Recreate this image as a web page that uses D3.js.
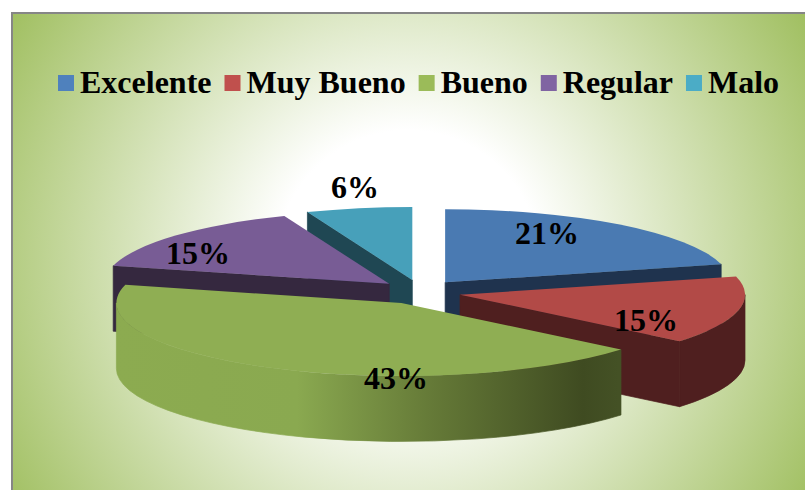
<!DOCTYPE html>
<html>
<head>
<meta charset="utf-8">
<script src="https://cdn.jsdelivr.net/npm/d3@7"></script>
<style>
  body { margin: 0; background: #fff; }
  svg { display: block; }
  text { font-family: "Liberation Serif", serif; font-weight: bold; fill: #000; }
</style>
</head>
<body>
<svg width="805" height="490"></svg>
<script>
var categories = ["Excelente", "Muy Bueno", "Bueno", "Regular", "Malo"];
var values = [21, 15, 43, 15, 6];
var labels = ["21%", "15%", "43%", "15%", "6%"];
var legendColors = ["#4f81bd", "#c0504d", "#9bbb59", "#8064a2", "#4bacc6"];
var topColors = ["#4a7ab2", "#b24a47", "#8fae53", "#785c95", "#47a0ba"];
var wallColors = ["#1f334e", "#4f1f1f", "url(#greenWall)", "#35283f", "#1f4753"];

var svg = d3.select("svg"),
    width = +svg.attr("width"),
    height = +svg.attr("height");

var cx = 420, cy = 292, rx = 285, ry = 73, depth = 65.5;
var explodeX = 41, explodeY = 12.3;

var defs = svg.append("defs");

var bg = defs.append("radialGradient")
    .attr("id", "bg")
    .attr("gradientUnits", "userSpaceOnUse")
    .attr("cx", 408).attr("cy", 262).attr("r", 470);
bg.append("stop").attr("offset", 0.28).attr("stop-color", "#ffffff");
bg.append("stop").attr("offset", 1).attr("stop-color", "#a0bf60");

var greenWall = defs.append("linearGradient")
    .attr("id", "greenWall")
    .attr("gradientUnits", "userSpaceOnUse")
    .attr("x1", 116).attr("x2", 618).attr("y1", 0).attr("y2", 0);
greenWall.append("stop").attr("offset", 0).attr("stop-color", "#8cab50");
greenWall.append("stop").attr("offset", 0.36).attr("stop-color", "#8aa950");
greenWall.append("stop").attr("offset", 0.62).attr("stop-color", "#667b38");
greenWall.append("stop").attr("offset", 0.93).attr("stop-color", "#3f4b21");
greenWall.append("stop").attr("offset", 1).attr("stop-color", "#445125");

// chart area, runs off the right and bottom edge of the picture
svg.append("rect")
    .attr("x", 12).attr("y", 13)
    .attr("width", width).attr("height", height)
    .attr("fill", "url(#bg)")
    .attr("stroke", "#868686")
    .attr("stroke-width", 2);

var pie = d3.pie().sort(null).value(function(d) { return d; });
var slices = pie(values);

slices.forEach(function(d, i) {
  var mid = (d.startAngle + d.endAngle) / 2;
  d.i = i;
  d.ax = cx + explodeX * Math.sin(mid);
  d.ay = cy - explodeY * Math.cos(mid);
});

function px(d, a) { return d.ax + rx * Math.sin(a); }
function py(d, a) { return d.ay - ry * Math.cos(a); }

function topPath(d) {
  var large = d.endAngle - d.startAngle > Math.PI ? 1 : 0;
  return "M" + d.ax + "," + d.ay +
    "L" + px(d, d.startAngle) + "," + py(d, d.startAngle) +
    "A" + rx + "," + ry + " 0 " + large + " 1 " + px(d, d.endAngle) + "," + py(d, d.endAngle) + "Z";
}

// flat face along one radius of the slice
function radialWall(d, a) {
  return "M" + d.ax + "," + d.ay +
    "L" + px(d, a) + "," + py(d, a) +
    "L" + px(d, a) + "," + (py(d, a) + depth) +
    "L" + d.ax + "," + (d.ay + depth) + "Z";
}

// curved rim, only the part facing the viewer
function outerWall(d) {
  var a0 = Math.max(d.startAngle, Math.PI / 2),
      a1 = Math.min(d.endAngle, Math.PI * 1.5);
  if (a1 <= a0) return null;
  return "M" + px(d, a0) + "," + py(d, a0) +
    "A" + rx + "," + ry + " 0 0 1 " + px(d, a1) + "," + py(d, a1) +
    "L" + px(d, a1) + "," + (py(d, a1) + depth) +
    "A" + rx + "," + ry + " 0 0 0 " + px(d, a0) + "," + (py(d, a0) + depth) + "Z";
}

// thin stroke in the same colour closes the seams between faces
function addWall(g, path, color) {
  g.append("path")
      .attr("d", path)
      .attr("fill", color)
      .attr("stroke", color)
      .attr("stroke-width", 0.7);
}

// painter order, back slices first
var drawOrder = [4, 3, 0, 1, 2];

var slice = svg.append("g").selectAll("g")
    .data(drawOrder.map(function(i) { return slices[i]; }))
    .enter().append("g");

slice.each(function(d) {
  var g = d3.select(this);
  if (d.startAngle > Math.PI) addWall(g, radialWall(d, d.startAngle), wallColors[d.i]);
  if (d.endAngle < Math.PI) addWall(g, radialWall(d, d.endAngle), wallColors[d.i]);
  var o = outerWall(d);
  if (o) addWall(g, o, wallColors[d.i]);
  g.append("path").attr("d", topPath(d)).attr("fill", topColors[d.i]);
});

// data labels, placed by hand like in the original
var labelX = [547, 646, 396, 198, 355];
var labelY = [244, 331, 389, 264, 198];
svg.append("g").selectAll("text")
    .data(labels)
    .enter().append("text")
      .attr("x", function(d, i) { return labelX[i]; })
      .attr("y", function(d, i) { return labelY[i]; })
      .attr("text-anchor", "middle")
      .attr("font-size", 32)
      .text(function(d) { return d; });

// legend
var legendX = 58;
var legend = svg.append("g");
categories.forEach(function(c, i) {
  legend.append("rect")
      .attr("x", legendX).attr("y", 75)
      .attr("width", 16).attr("height", 16)
      .attr("fill", legendColors[i]);
  var t = legend.append("text")
      .attr("x", legendX + 22).attr("y", 93)
      .attr("font-size", 32)
      .text(c);
  legendX += 22 + t.node().getComputedTextLength() + 13;
});
</script>
</body>
</html>
